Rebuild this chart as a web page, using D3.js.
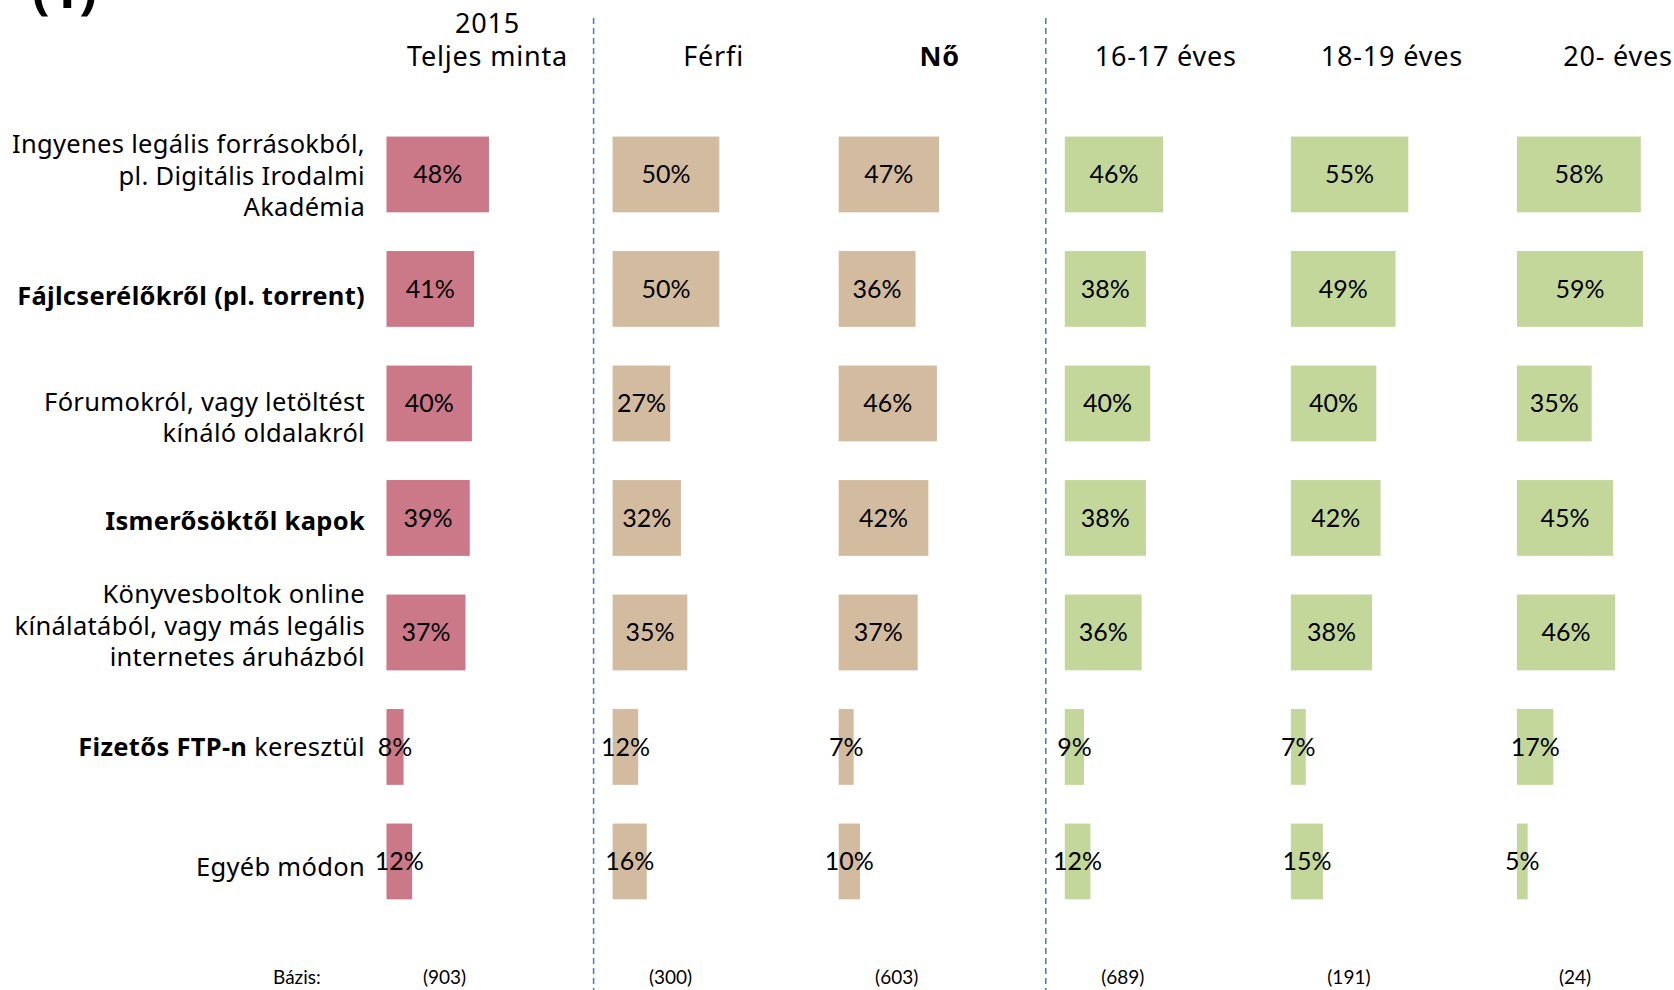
<!DOCTYPE html>
<html>
<head>
<meta charset="utf-8">
<script src="https://cdn.jsdelivr.net/npm/d3@7"></script>
<style>
  body { margin: 0; background: #fff; }
  svg text { fill: #000; }
</style>
</head>
<body>
<div id="chart"></div>
<script>
const width = 1674;
const height = 990;

// categories (label lines)
const categories = [
  ["Ingyenes legális forrásokból,", "pl. Digitális Irodalmi", "Akadémia"],
  ["Fájlcserélőkről (pl. torrent)"],
  ["Fórumokról, vagy letöltést", "kínáló oldalakról"],
  ["Ismerősöktől kapok"],
  ["Könyvesboltok online", "kínálatából, vagy más legális", "internetes áruházból"],
  ["Fizetős FTP-n keresztül"],
  ["Egyéb módon"]
];

const groups = ["teljes", "ferfi", "no", "k1617", "k1819", "k20"];
const groupLabels = [["2015", "Teljes minta"], ["Férfi"], ["Nő"], ["16-17 éves"], ["18-19 éves"], ["20- éves"]];
const bases = ["(903)", "(300)", "(603)", "(689)", "(191)", "(24)"];

// percentages per group, in category order
const teljesMinta = [48, 41, 40, 39, 37, 8, 12];
const ferfi = [50, 50, 27, 32, 35, 12, 16];
const no = [47, 36, 46, 42, 37, 7, 10];
const kor1617 = [46, 38, 40, 38, 36, 9, 12];
const kor1819 = [55, 49, 40, 42, 38, 7, 15];
const kor20 = [58, 59, 35, 45, 46, 17, 5];

const series = [teljesMinta, ferfi, no, kor1617, kor1819, kor20];
const colors = ["#cb7889", "#d3bb9f", "#d3bb9f", "#c4d79b", "#c4d79b", "#c4d79b"];

// text pieces drawn bold
const boldPrefixes = ["Fájlcserélőkről (pl. torrent)", "Ismerősöktől kapok", "Fizetős FTP-n", "Nő"];
// small vertical nudges of the category labels, as in the original
const labelShift = [1, 7, 14, 3, -7, 0, 5];

const labelFont = "'Noto Sans', 'Open Sans', sans-serif";
const numFont = "Lato, 'Open Sans', sans-serif";

const svg = d3.select("#chart").append("svg")
  .attr("width", width)
  .attr("height", height);

const px = d3.scalePoint().domain(groups).range([386.5, 1517]);
const w = d3.scaleLinear().domain([0, 100]).range([0, 213.5]);
const y = d3.scaleBand()
  .domain(d3.range(categories.length))
  .range([117.2, 918.7])
  .paddingInner(0.338)
  .paddingOuter(0.169);

function addRich(sel, str) {
  const b = boldPrefixes.find((p) => str.startsWith(p));
  if (b) {
    sel.append("tspan").attr("font-weight", "bold").text(b);
    if (str.length > b.length) sel.append("tspan").text(str.slice(b.length));
  } else {
    sel.text(str);
  }
}

// "(1)" cut off at the top, like in the source
svg.append("text")
  .attr("x", 32)
  .attr("y", 8)
  .attr("font-family", labelFont)
  .attr("font-weight", "bold")
  .attr("font-size", 52)
  .text("(1)");

// dashed separators
["ferfi", "k1617"].forEach((g) => {
  svg.append("line")
    .attr("x1", px(g) - 19).attr("x2", px(g) - 19)
    .attr("y1", 18).attr("y2", height)
    .attr("stroke", "#4f81bd")
    .attr("stroke-width", 1.6)
    .attr("stroke-dasharray", "6,4");
});

// group headers (one text element, lines as tspans)
groups.forEach((g, i) => {
  const lines = groupLabels[i];
  const t = svg.append("text")
    .attr("x", px(g) + 101)
    .attr("y", 66 - (lines.length - 1) * 33)
    .attr("text-anchor", "middle")
    .attr("font-family", labelFont)
    .attr("font-size", 27)
    .attr("letter-spacing", 0.8);
  lines.forEach((ln, j) => {
    const ts = t.append("tspan")
      .attr("x", px(g) + 101)
      .attr("dy", j === 0 ? 0 : 33);
    addRich(ts, ln);
  });
});

// category labels
categories.forEach((lines, i) => {
  const cy = y(i) + y.bandwidth() / 2 + labelShift[i];
  lines.forEach((ln, j) => {
    const t = svg.append("text")
      .attr("x", 365)
      .attr("y", cy + (j - (lines.length - 1) / 2) * 31.5)
      .attr("dy", "0.36em")
      .attr("text-anchor", "end")
      .attr("font-family", labelFont)
      .attr("font-size", 25.5)
      .attr("letter-spacing", 0.3);
    addRich(t, ln);
  });
});

// bars + value labels
groups.forEach((g, gi) => {
  const gg = svg.append("g").attr("transform", `translate(${px(g)},0)`);
  const data = series[gi];

  gg.selectAll("rect")
    .data(data)
    .enter()
    .append("rect")
    .attr("x", 0)
    .attr("y", (d, i) => y(i))
    .attr("width", (d) => w(d))
    .attr("height", y.bandwidth())
    .style("fill", colors[gi]);

  gg.selectAll("text.val")
    .data(data)
    .enter()
    .append("text")
    .attr("class", "val")
    .attr("x", (d) => w(d) / 2)
    .attr("y", (d, i) => y(i) + y.bandwidth() / 2)
    .attr("dy", "0.36em")
    .attr("text-anchor", "middle")
    .attr("font-family", numFont)
    .attr("font-size", 25)
    .text((d) => d + "%");

  gg.append("text")
    .attr("x", 58)
    .attr("y", 984)
    .attr("text-anchor", "middle")
    .attr("font-family", numFont)
    .attr("font-size", 19)
    .text(bases[gi]);
});

svg.append("text")
  .attr("x", 273)
  .attr("y", 984)
  .attr("font-family", numFont)
  .attr("font-size", 19)
  .text("Bázis:");
</script>
</body>
</html>
